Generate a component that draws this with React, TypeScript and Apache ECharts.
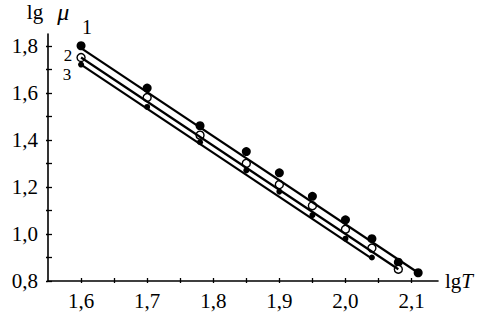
import React, { useEffect, useRef } from "react";
import * as echarts from "echarts";

const lgT1 = [1.6, 1.7, 1.78, 1.85, 1.9, 1.95, 2.0, 2.04, 2.08, 2.11];
const lgMu1 = [1.8, 1.62, 1.46, 1.35, 1.26, 1.16, 1.06, 0.98, 0.88, 0.835];
const lgT2 = [1.6, 1.7, 1.78, 1.85, 1.9, 1.95, 2.0, 2.04, 2.08];
const lgMu2 = [1.75, 1.58, 1.42, 1.3, 1.21, 1.12, 1.02, 0.94, 0.85];
const lgT3 = [1.6, 1.7, 1.78, 1.85, 1.9, 1.95, 2.0, 2.04];
const lgMu3 = [1.72, 1.54, 1.39, 1.27, 1.18, 1.08, 0.98, 0.9];

const fit1 = [[1.6, 1.79], [2.11, 0.835]];
const fit2 = [[1.6, 1.75], [2.08, 0.85]];
const fit3 = [[1.6, 1.72], [2.04, 0.895]];

const seriesNames = ["1", "2", "3"];
const xLabelValues = [1.6, 1.7, 1.8, 1.9, 2.0, 2.1];
const xTickValues = [1.6, 1.65, 1.7, 1.75, 1.8, 1.85, 1.9, 1.95, 2.0, 2.05, 2.1];
const yLabelValues = [0.8, 1.0, 1.2, 1.4, 1.6, 1.8];
const yTickValues = [0.8, 0.9, 1.0, 1.1, 1.2, 1.3, 1.4, 1.5, 1.6, 1.7, 1.8];

const FONT = "'Liberation Serif', 'Times New Roman', serif";

const fmt = (v: number) => v.toFixed(1).replace(".", ",");

const zip = (xs: number[], ys: number[]) => xs.map((x, i) => [x, ys[i]]);

export default function App() {
  const ref = useRef<HTMLDivElement>(null);
  useEffect(() => {
    if (!ref.current) return;
    const chart = echarts.init(ref.current, null, { renderer: "svg" });
    const axisLine = { show: true, lineStyle: { color: "#000", width: 1.6 } };
    const labelStyle = { color: "#000", fontFamily: FONT, fontSize: 21 };
    const mkLabelData = (xs: number[], ys: number[], label: any) =>
      zip(xs, ys).map((p, i) =>
        i === 0 ? { value: p, label: { show: true, ...label } } : { value: p }
      );
    const pointLabel = (text: string, ox: number, oy: number, size: number) => ({
      formatter: text,
      position: "inside",
      offset: [ox, oy],
      color: "#000",
      fontFamily: FONT,
      fontSize: size,
      lineHeight: size,
    });
    chart.setOption({
      animation: false,
      backgroundColor: "#fff",
      grid: { left: 48, right: 51, top: 32, bottom: 32, containLabel: false },
      xAxis: [
        {
          type: "value",
          min: 1.55,
          max: 2.14,
          position: "bottom",
          axisLine,
          axisTick: { show: true, inside: true, length: 3, customValues: xTickValues, lineStyle: { color: "#000", width: 1.3 } },
          axisLabel: { ...labelStyle, margin: 9, customValues: xLabelValues, formatter: (v: number) => fmt(v) },
          splitLine: { show: false },
          name: "{a|lg}{b|T}",
          nameLocation: "end",
          nameGap: 7,
          nameTextStyle: {
            rich: {
              a: { fontFamily: FONT, fontSize: 21, color: "#000" },
              b: { fontFamily: FONT, fontSize: 21, fontStyle: "italic", color: "#000" },
            },
          },
        },
        {
          type: "value",
          min: 1.55,
          max: 2.14,
          position: "bottom",
          axisLine: { show: false },
          axisTick: { show: true, inside: false, length: 2, customValues: xTickValues, lineStyle: { color: "#000", width: 1.3 } },
          axisLabel: { show: false },
          splitLine: { show: false },
        },
      ],
      yAxis: [
        {
          type: "value",
          min: 0.8,
          max: 1.85,
          position: "left",
          axisLine,
          axisTick: { show: true, inside: true, length: 4, customValues: yTickValues, lineStyle: { color: "#000", width: 1.3 } },
          axisLabel: { ...labelStyle, margin: 10, customValues: yLabelValues, formatter: (v: number) => fmt(v) },
          splitLine: { show: false },
          name: "{a|lg}{b|μ}",
          nameLocation: "end",
          nameGap: 10,
          nameTextStyle: {
            align: "center",
            rich: {
              a: { fontFamily: FONT, fontSize: 21, color: "#000" },
              b: { fontFamily: FONT, fontSize: 24, fontStyle: "italic", color: "#000", padding: [0, 0, 0, 14] },
            },
          },
        },
        {
          type: "value",
          min: 0.8,
          max: 1.85,
          position: "left",
          axisLine: { show: false },
          axisTick: { show: true, inside: false, length: 2, customValues: yTickValues, lineStyle: { color: "#000", width: 1.3 } },
          axisLabel: { show: false },
          splitLine: { show: false },
        },
      ],
      series: [
        { type: "line", data: fit1, symbol: "none", lineStyle: { color: "#000", width: 2.2 }, silent: true },
        { type: "line", data: fit2, symbol: "none", lineStyle: { color: "#000", width: 2.2 }, silent: true },
        { type: "line", data: fit3, symbol: "none", lineStyle: { color: "#000", width: 2.2 }, silent: true },
        {
          name: seriesNames[0],
          type: "scatter",
          symbol: "circle",
          symbolSize: 9,
          itemStyle: { color: "#000", opacity: 1 },
          data: mkLabelData(lgT1, lgMu1, pointLabel(seriesNames[0], 6, -19, 20)),
        },
        {
          name: seriesNames[1],
          type: "scatter",
          symbol: "circle",
          symbolSize: 8,
          itemStyle: { color: "#fff", borderColor: "#000", borderWidth: 1.4, opacity: 1 },
          data: mkLabelData(lgT2, lgMu2, pointLabel(seriesNames[1], -13, -2, 17)),
        },
        {
          name: seriesNames[2],
          type: "scatter",
          symbol: "circle",
          symbolSize: 6,
          itemStyle: { color: "#000", opacity: 1 },
          data: mkLabelData(lgT3, lgMu3, pointLabel(seriesNames[2], -14, 10, 17)),
        },
      ],
    });
    return () => chart.dispose();
  }, []);
  return (
    <div
      ref={ref}
      style={{ position: "absolute", left: 0, top: 0, width: 489, height: 313, background: "#fff" }}
    />
  );
}
